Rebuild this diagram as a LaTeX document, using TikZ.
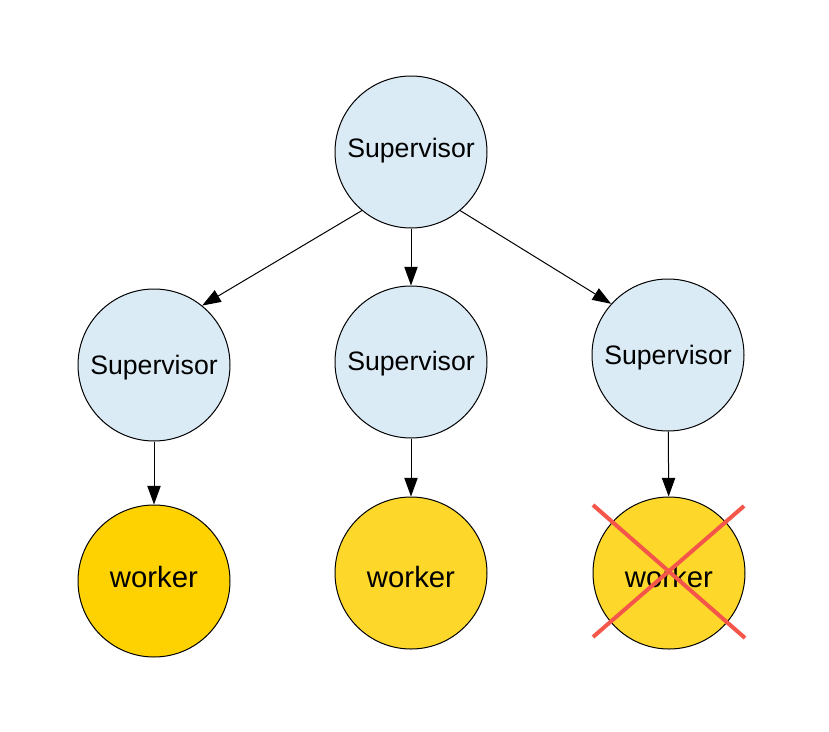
\documentclass[tikz,border=0pt]{standalone}
\usepackage{fontspec}
\setmainfont{Liberation Sans}
\usetikzlibrary{arrows.meta}

\definecolor{supblue}{RGB}{218,235,246}
\definecolor{workgold}{RGB}{253,210,0}
\definecolor{workyellow}{RGB}{253,216,43}
\definecolor{crossred}{RGB}{245,86,74}

\tikzset{every picture/.style={line width=0.75pt}}
\tikzset{
  supnode/.style={circle,draw,fill=supblue,minimum size=114pt,inner sep=0pt},
  worknode/.style={circle,draw,fill=workyellow,minimum size=114pt,inner sep=0pt},
  suptext/.style={inner sep=0.75pt,font=\fontsize{20}{24}\selectfont},
  worktext/.style={inner sep=0.75pt,font=\fontsize{22}{26}\selectfont},
  link/.style={-{Triangle[length=14pt,width=10pt]},line width=0.75pt}
}

\begin{document}
\begin{tikzpicture}[x=0.75pt,y=0.75pt,yscale=-1,xscale=1]
\useasboundingbox (0,0) rectangle (829,732);

%Shape: Circle [id:top supervisor]
\node [supnode] (sup) at (411,152) {};
%Shape: Circle [id:left supervisor]
\node [supnode] (supA) at (154,365) {};
%Shape: Circle [id:middle supervisor]
\node [supnode] (supB) at (411,362) {};
%Shape: Circle [id:right supervisor]
\node [supnode] (supC) at (668,355) {};

%Shape: Circle [id:left worker]
\node [worknode,fill=workgold] (workA) at (154,581) {};
%Shape: Circle [id:middle worker]
\node [worknode] (workB) at (411,573) {};
%Shape: Circle [id:right worker]
\node [worknode] (workC) at (669,573) {};

%Straight Lines
\draw [link] (sup.230) -- (supA.51);
\draw [link] (sup) -- (supB);
\draw [link] (sup.310) -- (supC.138);
%Straight Lines
\draw [link] (supA) -- (workA);
\draw [link] (supB) -- (workB);
\draw [link] (supC) -- (workC);

% Text Node
\node [suptext] (supLabel) at (411,151) {Supervisor};
% Text Node
\node [suptext] (supALabel) at (154,368) {Supervisor};
% Text Node
\node [suptext] (supBLabel) at (411,364) {Supervisor};
% Text Node
\node [suptext] (supCLabel) at (668,358) {Supervisor};
% Text Node
\node [worktext] (workALabel) at (154,577) {worker};
% Text Node
\node [worktext] (workBLabel) at (411,577) {worker};
% Text Node
\node [worktext] (workCLabel) at (669,577) {worker};

%Shape: Cross
\draw [crossred,line width=3pt] (593,505) -- (745,638) ;
\draw [crossred,line width=3pt] (744,506) -- (593,637) ;

\end{tikzpicture}
\end{document}
